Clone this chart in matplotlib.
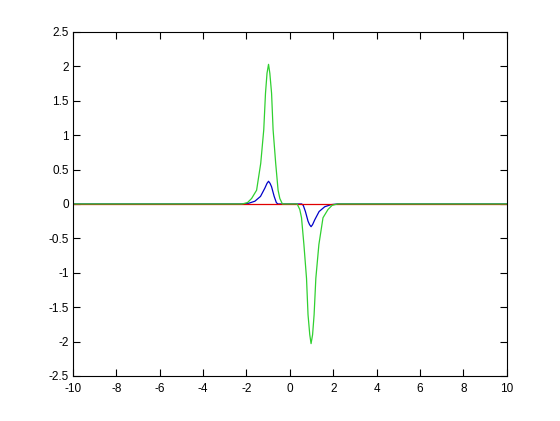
import matplotlib
matplotlib.use("Agg")
import matplotlib.pyplot as plt

# --- values ---
green_x = [-10.0, -2.2, -1.95, -1.76, -1.53, -1.34, -1.2, -1.12, -1.05, -0.98,
           -0.92, -0.84, -0.77, -0.65, -0.54, -0.46, -0.34,
           0.34, 0.46, 0.54, 0.65, 0.77, 0.84, 0.92, 0.98,
           1.05, 1.12, 1.2, 1.34, 1.53, 1.76, 1.95, 2.2, 10.0]
green_y = [0.0, 0.0, 0.02, 0.08, 0.2, 0.59, 1.08, 1.61, 1.9, 2.03,
           1.9, 1.61, 1.08, 0.59, 0.2, 0.08, 0.0,
           0.0, -0.08, -0.2, -0.59, -1.08, -1.61, -1.9, -2.03,
           -1.9, -1.61, -1.08, -0.59, -0.2, -0.08, -0.02, 0.0, 0.0]

blue_x = [-10.0, -2.2, -1.9, -1.61, -1.35, -1.15, -1.05, -0.98, -0.91, -0.84,
          -0.72, -0.62, -0.55,
          0.55, 0.62, 0.72, 0.84, 0.91, 0.98, 1.05, 1.15, 1.35, 1.61, 1.9, 2.2, 10.0]
blue_y = [0.0, 0.0, 0.01, 0.04, 0.11, 0.23, 0.3, 0.33, 0.3, 0.25,
          0.11, 0.02, 0.0,
          0.0, -0.02, -0.11, -0.25, -0.3, -0.33, -0.3, -0.23, -0.11, -0.04, -0.01, 0.0, 0.0]

red_x = [-10.0, -2.2, -0.34, 0.34, 2.2, 10.0]
red_y = [0.0, 0.0, 0.0, 0.0, 0.0, 0.0]

x_ticks = [-10, -8, -6, -4, -2, 0, 2, 4, 6, 8, 10]
y_ticks = [-2.5, -2, -1.5, -1, -0.5, 0, 0.5, 1, 1.5, 2, 2.5]
y_labels = ["-2.5", "-2", "-1.5", "-1", "-0.5", "0", "0.5", "1", "1.5", "2", "2.5"]

# --- Plotting ---
plt.rcParams["font.family"] = ["Liberation Sans", "DejaVu Sans"]
fig = plt.figure(figsize=(5.6, 4.21), dpi=100, facecolor="white")
ax = fig.add_axes([0.13, 0.107, 0.775, 0.817])

ax.plot(blue_x, blue_y, color="#0000c8", linewidth=0.9)
ax.plot(red_x, red_y, color="#e00000", linewidth=0.9)
ax.plot(green_x, green_y, color="#30d030", linewidth=0.9)

ax.set_xlim(-10, 10)
ax.set_ylim(-2.5, 2.5)
ax.set_xticks(x_ticks)
ax.set_xticklabels([str(t) for t in x_ticks])
ax.set_yticks(y_ticks)
ax.set_yticklabels(y_labels)
ax.tick_params(direction="in", top=True, right=True, length=5, width=0.8,
               labelsize=8.5, pad=3)
ax.tick_params(axis="x", pad=5)
for spine in ax.spines.values():
    spine.set_linewidth(0.8)

fig.savefig("out.png", dpi=100, facecolor="white")
